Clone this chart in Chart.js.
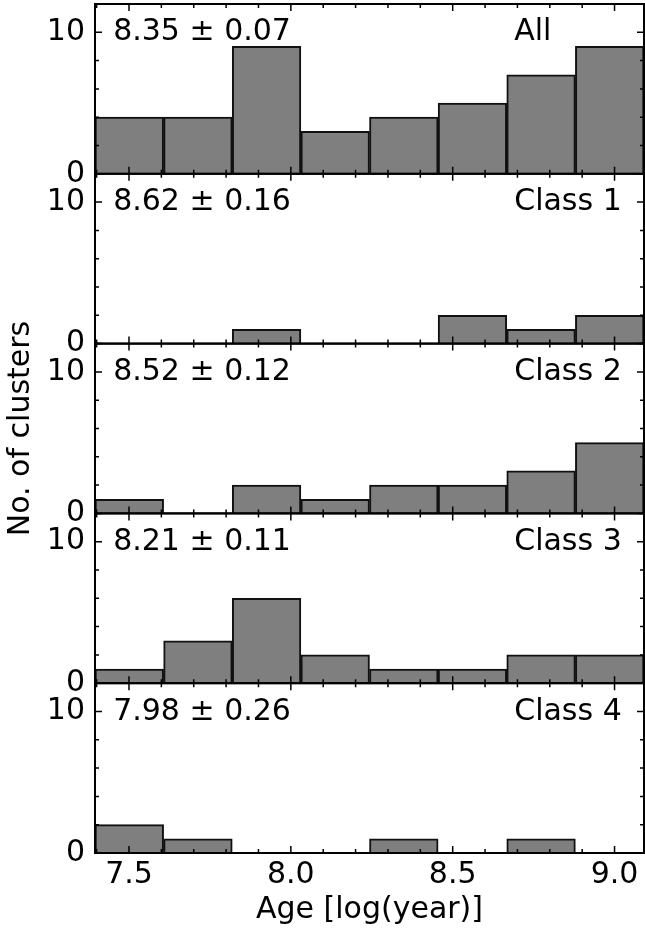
<!DOCTYPE html>
<html>
<head>
<meta charset="utf-8">
<script src="https://cdn.jsdelivr.net/npm/chart.js@4/dist/chart.umd.min.js"></script>
<style>
  html, body { margin: 0; padding: 0; background: #fff; }
  #wrap { width: 645px; height: 932px; position: relative; }
</style>
</head>
<body>
<div id="wrap"><canvas id="ageChart"></canvas></div>
<script>
const binCenters = [7.501, 7.713, 7.925, 8.137, 8.349, 8.561, 8.773, 8.985];
const panelNames = ["All", "Class 1", "Class 2", "Class 3", "Class 4"];
const meanAges = ["8.35", "8.62", "8.52", "8.21", "7.98"];
const ageErrors = ["0.07", "0.16", "0.12", "0.11", "0.26"];
const countsAll = [4, 4, 9, 3, 4, 5, 7, 9];
const countsClass1 = [0, 0, 1, 0, 0, 2, 1, 2];
const countsClass2 = [1, 0, 2, 1, 2, 2, 3, 5];
const countsClass3 = [1, 3, 6, 2, 1, 1, 2, 2];
const countsClass4 = [2, 1, 0, 0, 1, 0, 1, 0];
const xTickValues = [7.5, 8.0, 8.5, 9.0];
const yTickValues = [0, 10];

const panelCounts = [countsAll, countsClass1, countsClass2, countsClass3, countsClass4];
const panelIds = ["y0", "y1", "y2", "y3", "y4"];

const FONT = { family: "DejaVu Sans", size: 30 };
const AXIS_W = 95;

// 画框 + 向内刻度 + 面板文字
const panelFrame = {
  id: "panelFrame",
  afterDatasetsDraw(chart) {
    const ctx = chart.ctx;
    const x = chart.scales.x;
    ctx.save();
    ctx.strokeStyle = "#000";
    ctx.fillStyle = "#000";
    panelIds.forEach((id, i) => {
      const y = chart.scales[id];
      ctx.lineWidth = 1.5;
      ctx.beginPath();
      // x ticks, every 0.1, major every 0.5
      for (let k = 74; k <= 90; k++) {
        const px = x.getPixelForValue(k / 10);
        if (px < x.left || px > x.right) continue;
        const len = k % 5 === 0 ? 7 : 4;
        ctx.moveTo(px, y.bottom);
        ctx.lineTo(px, y.bottom - len);
        ctx.moveTo(px, y.top);
        ctx.lineTo(px, y.top + len);
      }
      // y ticks, every 2, major at 0 and 10
      for (let v = 0; v <= 12; v += 2) {
        const py = y.getPixelForValue(v);
        const len = v % 10 === 0 ? 7 : 4;
        ctx.moveTo(x.left, py);
        ctx.lineTo(x.left + len, py);
        ctx.moveTo(x.right, py);
        ctx.lineTo(x.right - len, py);
      }
      ctx.stroke();

      ctx.lineWidth = 2;
      ctx.strokeRect(x.left, y.top, x.right - x.left, y.bottom - y.top);

      ctx.font = FONT.size + 'px "DejaVu Sans"';
      ctx.textBaseline = "alphabetic";
      ctx.textAlign = "left";
      const ty = y.getPixelForValue(10) + 8;
      ctx.fillText(meanAges[i] + " \u00b1 " + ageErrors[i], x.getPixelForValue(7.451), ty);
      ctx.fillText(panelNames[i], x.getPixelForValue(8.69), ty);
    });
    ctx.restore();
  },
};

function yAxis(idx) {
  const cfg = {
    type: "linear",
    position: "left",
    stack: "panels",
    stackWeight: 1,
    min: 0,
    max: 12,
    offset: false,
    grid: { display: false, drawTicks: false },
    border: { display: false },
    ticks: { font: FONT, color: "#000", padding: 10, autoSkip: false },
    afterBuildTicks: (s) => {
      s.ticks = yTickValues.map((v) => ({ value: v }));
    },
    afterFit: (s) => {
      s.width = AXIS_W;
      s.paddingTop = 0;
      s.paddingBottom = 0;
    },
  };
  if (idx === 2) {
    cfg.title = {
      display: true,
      text: "No. of clusters",
      font: FONT,
      color: "#000",
      padding: { top: 3, bottom: 0 },
    };
  }
  return cfg;
}

const scales = {
  x: {
    type: "linear",
    position: "bottom",
    min: 7.395,
    max: 9.091,
    offset: false,
    grid: { display: false, drawTicks: false },
    border: { display: false },
    ticks: {
      font: FONT,
      color: "#000",
      padding: 4,
      autoSkip: false,
      maxRotation: 0,
      callback: (v) => Number(v).toFixed(1),
    },
    afterBuildTicks: (s) => {
      s.ticks = xTickValues.map((v) => ({ value: v }));
    },
    title: {
      display: true,
      text: "Age [log(year)]",
      font: FONT,
      color: "#000",
      padding: { top: 0, bottom: 4 },
    },
    afterFit: (s) => {
      s.height = 79;
      s.paddingLeft = 0;
      s.paddingRight = 0;
    },
  },
};
// left stacked axes are laid out last-defined-first, so add them bottom panel first
panelIds.slice().reverse().forEach((id) => (scales[id] = yAxis(panelIds.indexOf(id))));

const datasets = panelCounts.map((counts, i) => ({
  label: panelNames[i],
  data: binCenters.map((c, j) => ({ x: c, y: counts[j] })),
  xAxisID: "x",
  yAxisID: panelIds[i],
  backgroundColor: "#7f7f7f",
  borderColor: "#111",
  borderWidth: 2,
  barPercentage: 1,
  categoryPercentage: 1,
  grouped: false,
}));

new Chart(document.getElementById("ageChart"), {
  type: "bar",
  data: { datasets },
  options: {
    responsive: true,
    maintainAspectRatio: false,
    animation: false,
    layout: { padding: { top: 4, right: 1, left: 0, bottom: 0 } },
    scales,
    plugins: { legend: { display: false }, tooltip: { enabled: false } },
  },
  plugins: [panelFrame],
});
</script>
</body>
</html>
